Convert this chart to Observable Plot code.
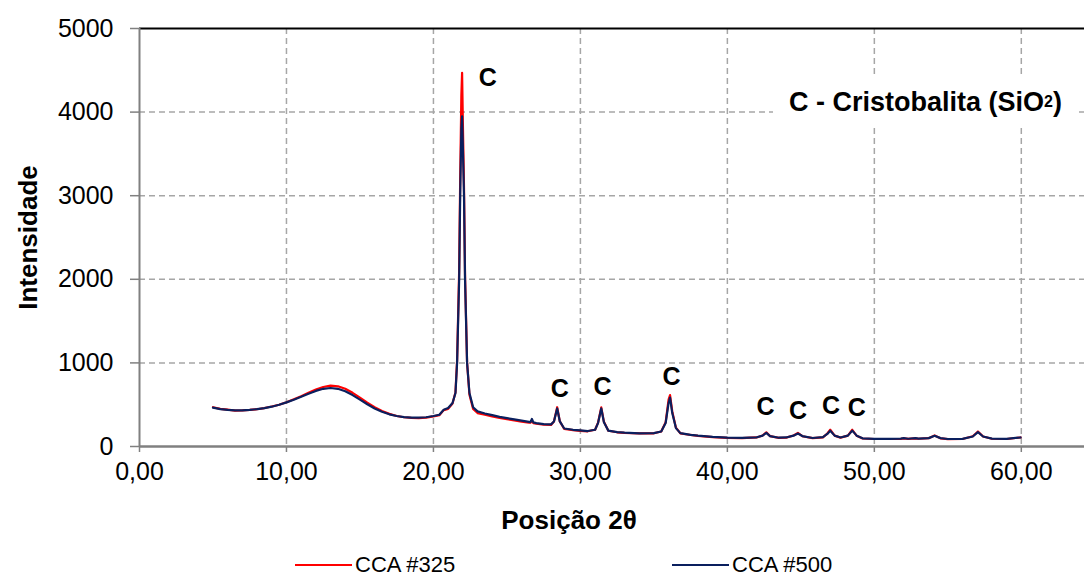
<!DOCTYPE html>
<html>
<head>
<meta charset="utf-8">
<script src="https://cdn.jsdelivr.net/npm/d3@7"></script>
<script src="https://cdn.jsdelivr.net/npm/@observablehq/plot@0.6"></script>
<style>
  html, body { margin: 0; padding: 0; background: #fff; }
  body { font-family: "Liberation Sans", Arial, sans-serif; }
  #wrap { position: relative; width: 1084px; height: 581px; overflow: hidden; }
  #note { position: absolute; left: 773px; top: 76px; width: 305px; height: 52px; background: #fff;
          display: flex; align-items: center; justify-content: center; font-weight: bold; font-size: 27px; color: #000; }
  #note sub { font-size: 16px; vertical-align: -2px; }
  #legend { position: absolute; left: 0; top: 551px; width: 1084px; height: 30px; font-size: 22px; color: #000; }
  .item { position: absolute; top: 0; display: flex; align-items: center; height: 28px; white-space: nowrap; }
  .swatch { display: inline-block; width: 57px; height: 0; border-top: 2px solid; margin-right: 3px; }
</style>
</head>
<body>
<div id="wrap">
  <div id="chart"></div>
  <div id="note"></div>
  <div id="legend"></div>
</div>
<script>
// ---- data ----
const seriesNames = ["CCA #325", "CCA #500"];
const seriesColors = ["#ff0000", "#0a1f5e"];

// diffraction angle 2θ (degrees)
const angle = [
  5.0, 5.5, 6.0, 6.5, 7.0, 7.5, 8.0, 8.5, 9.0, 9.5,
  10.0, 10.5, 11.0, 11.5, 12.0, 12.5, 13.0, 13.5, 14.0, 14.5,
  15.0, 15.5, 16.0, 16.5, 17.0, 17.5, 18.0, 18.5, 19.0, 19.5,
  20.0, 20.4, 20.7, 21.0, 21.3, 21.5, 21.61, 21.75, 21.82, 21.9,
  21.95, 22.0, 22.08, 22.15, 22.29, 22.45, 22.7, 23.0, 23.5, 24.0,
  24.5, 25.0, 25.5, 26.0, 26.5, 26.6, 26.7, 26.8, 27.0, 27.5,
  28.0, 28.2, 28.42, 28.6, 28.9, 29.5, 30.0, 30.5, 31.0, 31.2,
  31.42, 31.6, 31.9, 32.5, 33.0, 34.0, 35.0, 35.5, 35.8, 36.0,
  36.1, 36.25, 36.5, 36.8, 37.5, 38.0, 39.0, 40.0, 41.0, 42.0,
  42.4, 42.65, 42.9, 43.5, 44.0, 44.5, 44.8, 45.1, 45.8, 46.5,
  46.8, 47.0, 47.3, 47.7, 48.2, 48.5, 48.8, 49.2, 50.0, 51.0,
  51.8, 52.0, 52.3, 52.8, 53.0, 53.7, 54.1, 54.5, 55.0, 56.0,
  56.7, 57.05, 57.4, 58.0, 59.0, 59.95
];

// intensity, CCA #325 (red)
const cca325 = [
  470, 450, 440, 430, 432, 437, 446, 460, 478, 500,
  530, 565, 602, 643, 682, 712, 728, 720, 690, 642,
  585, 525, 470, 425, 390, 365, 350, 342, 340, 345,
  360, 375, 435, 450, 515, 650, 1030, 2100, 3200, 4200,
  4470, 3900, 3100, 2050, 1000, 620, 450, 400, 380, 360,
  342, 328, 312, 298, 285, 284, 300, 280, 272, 262,
  258, 300, 470, 300, 210, 195, 188, 182, 200, 285,
  468, 295, 188, 170, 163, 156, 158, 180, 290, 560,
  615, 420, 225, 158, 138, 128, 113, 103, 101, 108,
  132, 170, 125, 103, 106, 132, 162, 123, 100, 110,
  155, 200, 130, 106, 130, 200, 128, 96, 90, 90,
  92, 98, 92, 98, 93, 100, 132, 98, 88, 90,
  122, 180, 120, 93, 90, 108
];

// intensity, CCA #500 (navy)
const cca500 = [
  465, 448, 438, 432, 432, 437, 447, 460, 476, 500,
  528, 560, 595, 632, 665, 690, 700, 690, 660, 615,
  560, 505, 455, 415, 385, 365, 352, 345, 345, 350,
  365, 380, 440, 460, 520, 640, 1000, 2000, 3000, 3800,
  3950, 3600, 3000, 2000, 1000, 640, 470, 420, 395, 375,
  355, 340, 325, 310, 295, 292, 330, 288, 280, 268,
  265, 300, 455, 300, 215, 200, 192, 185, 200, 280,
  455, 290, 190, 172, 165, 158, 160, 180, 280, 520,
  585, 400, 220, 160, 140, 130, 115, 105, 103, 110,
  130, 162, 125, 105, 108, 130, 155, 125, 102, 112,
  150, 188, 130, 108, 130, 190, 130, 98, 92, 92,
  95, 100, 93, 100, 95, 100, 128, 100, 90, 92,
  120, 172, 120, 95, 92, 108
];

// peak labels (Cristobalita)
const peakLabel = ["C", "C", "C", "C", "C", "C", "C", "C"];
const peakLabelAngle = [23.7, 28.6, 31.5, 36.2, 42.6, 44.8, 47.05, 48.8];
const peakLabelIntensity = [4410, 690, 717, 837, 470, 430, 490, 462];

// axes
const xTicks = [0, 10, 20, 30, 40, 50, 60];
const yTicks = [0, 1000, 2000, 3000, 4000, 5000];
const xTitle = "Posição 2θ";
const yTitle = "Intensidade";
const noteText = "C - Cristobalita (SiO";
const noteSub = "2";

// ---- build ----
const rows325 = angle.map((a, i) => ({a, v: cca325[i]}));
const rows500 = angle.map((a, i) => ({a, v: cca500[i]}));
const labels = peakLabel.map((t, i) => ({t, a: peakLabelAngle[i], v: peakLabelIntensity[i]}));

const fmtX = d => d.toFixed(2).replace(".", ",");
const gridStyle = {stroke: "#a6a6a6", strokeOpacity: 1, strokeWidth: 1.5, strokeDasharray: "6,4"};

const chart = Plot.plot({
  width: 1084,
  height: 540,
  marginLeft: 139,
  marginRight: 0,
  marginTop: 28,
  marginBottom: 94,
  style: {fontFamily: "'Liberation Sans', Arial, sans-serif", fontSize: "25px", color: "#000", background: "#fff", overflow: "visible"},
  x: {domain: [0, 64.3]},
  y: {domain: [0, 5000]},
  marks: [
    Plot.gridX(xTicks.filter(d => d > 0), gridStyle),
    Plot.gridY(yTicks.filter(d => d > 0 && d < 5000), gridStyle),
    Plot.ruleY([5000], {stroke: "#000", strokeWidth: 2}),
    Plot.ruleX([0], {stroke: "#808080", strokeWidth: 2}),
    Plot.ruleY([0], {stroke: "#808080", strokeWidth: 2.5}),
    Plot.axisX(xTicks, {tickFormat: fmtX, tickSize: 6, tickPadding: 10, stroke: "#808080", strokeWidth: 1.5, fill: "#000", label: null}),
    Plot.axisY(yTicks, {tickFormat: d => String(d), tickSize: 9, tickPadding: 17, stroke: "#808080", strokeWidth: 1.5, fill: "#000", label: null}),
    Plot.line(rows325, {x: "a", y: "v", stroke: seriesColors[0], strokeWidth: 2.2}),
    Plot.line(rows500, {x: "a", y: "v", stroke: seriesColors[1], strokeWidth: 2.2}),
    Plot.text(labels, {x: "a", y: "v", text: "t", fontWeight: "bold", fontSize: 25, fill: "#000"}),
    Plot.text([yTitle], {text: d => d, frameAnchor: "left", dx: -111, rotate: -90, textAnchor: "middle", lineAnchor: "middle", fontWeight: "bold", fontSize: 26}),
    Plot.text([xTitle], {text: d => d, frameAnchor: "bottom", dx: -43, dy: 74, textAnchor: "middle", lineAnchor: "middle", fontWeight: "bold", fontSize: 26})
  ]
});
document.getElementById("chart").appendChild(chart);

// note box
const note = document.getElementById("note");
note.appendChild(document.createTextNode(noteText));
const sub = document.createElement("sub");
sub.textContent = noteSub;
note.appendChild(sub);
note.appendChild(document.createTextNode(")"));

// legend
const legend = document.getElementById("legend");
const legendLeft = [295, 672];
seriesNames.forEach((name, i) => {
  const item = document.createElement("div");
  item.className = "item";
  item.style.left = legendLeft[i] + "px";
  const sw = document.createElement("span");
  sw.className = "swatch";
  sw.style.borderTopColor = seriesColors[i];
  item.appendChild(sw);
  item.appendChild(document.createTextNode(name));
  legend.appendChild(item);
});
</script>
</body>
</html>
